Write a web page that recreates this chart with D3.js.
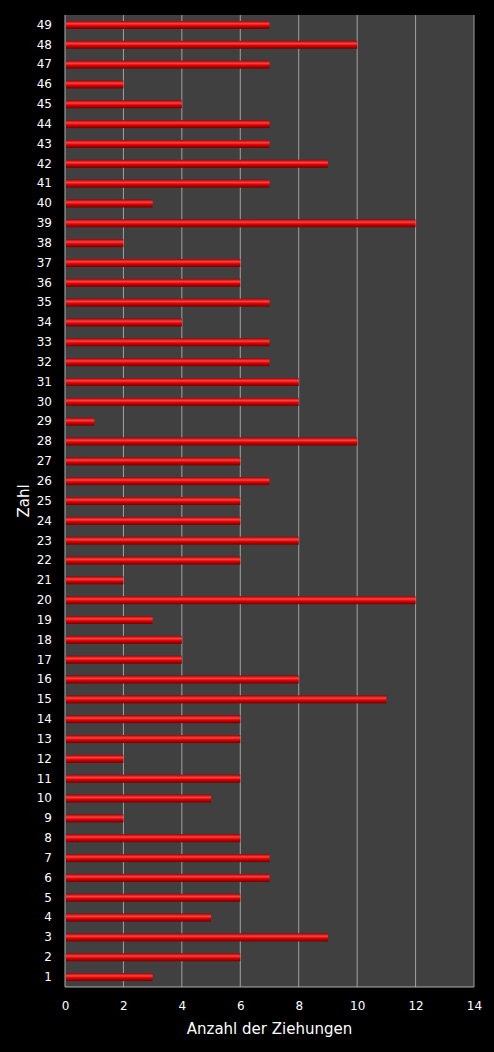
<!DOCTYPE html><html><head><meta charset="utf-8"><script src="https://cdn.jsdelivr.net/npm/d3@7"></script>
<style>body{margin:0;background:#000}</style></head><body><svg id="c" width="494" height="1052"></svg>
<script>
const categories=d3.range(1,50);
const values=[3,6,9,5,6,7,7,6,2,5,6,2,6,6,11,8,4,4,3,12,2,6,8,6,6,7,6,10,1,8,8,7,7,4,7,6,6,2,12,3,7,9,7,7,4,2,7,10,7];
const xTicks=[0,2,4,6,8,10,12,14];
const svg=d3.select("#c");
const L=65,R=474,T=15,B=987;
const x=d3.scaleLinear().domain([0,14]).range([L,R]);
const y=d3.scaleBand().domain(categories).range([B,T]);
const defs=svg.append("defs");
const g=defs.append("linearGradient").attr("id","gr").attr("x1",0).attr("x2",0).attr("y1",0).attr("y2",1);
[[0,"#a00000"],[0.35,"#ff4040"],[0.6,"#e00000"],[1,"#700000"]].forEach(s=>g.append("stop").attr("offset",s[0]).attr("stop-color",s[1]));
svg.append("rect").attr("x",L).attr("y",T).attr("width",R-L).attr("height",B-T).attr("fill","#404040");
svg.selectAll(".gl").data(xTicks.slice(1)).join("line").attr("x1",d=>x(d)).attr("x2",d=>x(d)).attr("y1",T).attr("y2",B).attr("stroke","#a0a0a0").attr("stroke-width",1);
svg.selectAll(".bar").data(values).join("rect").attr("x",x(0)+1).attr("y",(d,i)=>y(categories[i])+y.bandwidth()/2-4).attr("width",d=>x(d)-x(0)-1).attr("height",8).attr("fill","url(#gr)");
svg.append("line").attr("x1",L).attr("x2",R).attr("y1",B).attr("y2",B).attr("stroke","#b0b0b0");
svg.append("line").attr("x1",L).attr("x2",L).attr("y1",T).attr("y2",B).attr("stroke","#b0b0b0");
const ax=svg.append("g").attr("transform",`translate(0,${B})`).call(d3.axisBottom(x).tickValues(xTicks).tickSize(0).tickPadding(14));
const ay=svg.append("g").attr("transform",`translate(${L},0)`).call(d3.axisLeft(y).tickSize(0).tickPadding(13));
[ax,ay].forEach(a=>{a.select(".domain").remove();a.selectAll("text").attr("fill","#fff").attr("font-family","DejaVu Sans").attr("font-size",12);});
svg.append("text").attr("x",(L+R)/2).attr("y",1034).attr("text-anchor","middle").attr("fill","#fff").attr("font-family","DejaVu Sans").attr("font-size",15).text("Anzahl der Ziehungen");
svg.append("text").attr("transform",`translate(29,${(T+B)/2}) rotate(-90)`).attr("text-anchor","middle").attr("fill","#fff").attr("font-family","DejaVu Sans").attr("font-size",15).text("Zahl");
</script></body></html>
